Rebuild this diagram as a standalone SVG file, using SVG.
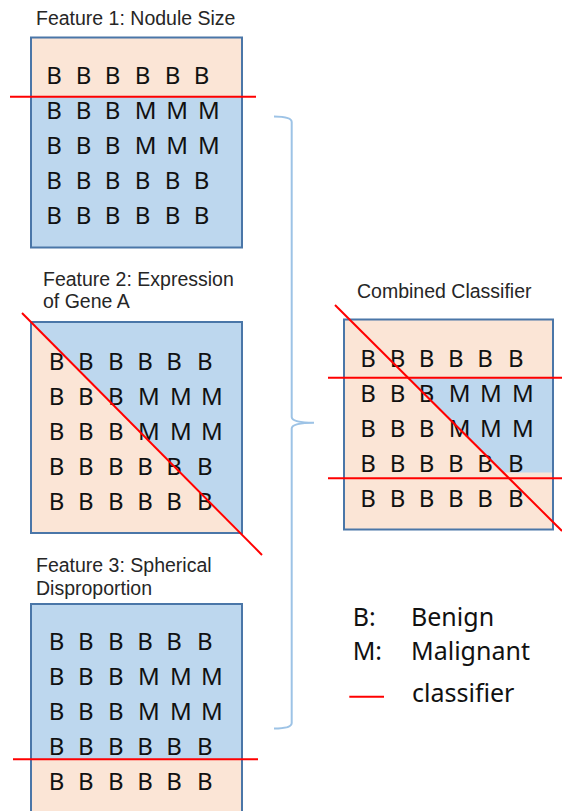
<svg xmlns="http://www.w3.org/2000/svg" width="562" height="811" viewBox="0 0 562 811">
<style>
.bg{fill:#ffffff}
.peach{fill:#FBE5D6}
.blue{fill:#BDD7EE}
.frame{fill:none;stroke:#4A76A8;stroke-width:2}
.cls{stroke:#FF0000;stroke-width:2;fill:none}
.title{font-family:"Liberation Sans",Arial,sans-serif;font-size:19.5px;fill:#262626}
.grid{font-family:"Noto Sans",sans-serif;font-size:24px;fill:#111111}
.leg{font-family:"Noto Sans",sans-serif;font-size:25px;fill:#111111}
.brace{fill:none;stroke:#9DC3E6;stroke-width:2}
</style>
<rect class="bg" x="0" y="0" width="562" height="811"/>

<g id="feature1">
<text class="title" x="36" y="25">Feature 1: Nodule Size</text>
<rect class="peach" x="31" y="37" width="211" height="60"/>
<rect class="blue" x="31" y="97" width="211" height="151"/>
<rect class="frame" x="31" y="37.5" width="211" height="210"/>
<g class="grid">
<text x="46.3 75.7 104.7 134.7 164.7 193.7" y="84.3">BBBBBB</text>
<text x="46.3 75.7 104.7 134.7 166.3 198" y="119.3">BBBMMM</text>
<text x="46.3 75.7 104.7 134.7 166.3 198" y="154.3">BBBMMM</text>
<text x="46.3 75.7 104.7 134.7 164.7 193.7" y="189.3">BBBBBB</text>
<text x="46.3 75.7 104.7 134.7 164.7 193.7" y="224.3">BBBBBB</text>
</g>
<line class="cls" x1="10" y1="96.7" x2="256" y2="96.7"/>
</g>

<g id="feature2">
<text class="title" x="43" y="285.5">Feature 2: Expression</text>
<text class="title" x="43" y="308.3">of Gene A</text>
<rect class="peach" x="31" y="322" width="211" height="211"/>
<polygon class="blue" points="31,322 242,322 242,533"/>
<rect class="frame" x="31" y="322" width="211" height="211"/>
<g class="grid">
<text x="48.7 78 108 137.3 166.3 197" y="370">BBBBBB</text>
<text x="48.7 78 108 138 170 201" y="405">BBBMMM</text>
<text x="48.7 78 108 138 170 201" y="440">BBBMMM</text>
<text x="48.7 78 108 137.3 166.3 197" y="475">BBBBBB</text>
<text x="48.7 78 108 137.3 166.3 197" y="510">BBBBBB</text>
</g>
<line class="cls" x1="22" y1="313" x2="262" y2="555"/>
</g>

<g id="feature3">
<text class="title" x="36" y="571.7">Feature 3: Spherical</text>
<text class="title" x="36" y="595">Disproportion</text>
<rect class="blue" x="31" y="604" width="211" height="155.3"/>
<rect class="peach" x="31" y="759.3" width="211" height="60"/>
<rect class="frame" x="31" y="604" width="211" height="220"/>
<g class="grid">
<text x="48.7 78 108 137.3 166.3 197" y="649.5">BBBBBB</text>
<text x="48.7 78 108 138 170 201" y="684.5">BBBMMM</text>
<text x="48.7 78 108 138 170 201" y="719.5">BBBMMM</text>
<text x="48.7 78 108 137.3 166.3 197" y="754.5">BBBBBB</text>
<text x="48.7 78 108 137.3 166.3 197" y="790">BBBBBB</text>
</g>
<line class="cls" x1="13" y1="759.3" x2="258" y2="759.3"/>
</g>

<g id="combined">
<text class="title" x="357" y="298">Combined Classifier</text>
<rect class="peach" x="344" y="319.5" width="209" height="210"/>
<polygon class="blue" points="408.3,378 553,378 553,472.5 503.2,472.5"/>
<rect class="frame" x="344" y="319.5" width="209" height="210"/>
<g class="grid">
<text x="360.3 389.7 418.7 448 477.3 508" y="366.7">BBBBBB</text>
<text x="360.3 389.7 418.7 448.7 480 512" y="401.7">BBBMMM</text>
<text x="360.3 389.7 418.7 448.7 480 512" y="436.7">BBBMMM</text>
<text x="360.3 389.7 418.7 448 477.3 508" y="472">BBBBBB</text>
<text x="360.3 389.7 418.7 448 477.3 508" y="506.7">BBBBBB</text>
</g>
<line class="cls" x1="328" y1="377.7" x2="562" y2="377.7"/>
<line class="cls" x1="328" y1="478.3" x2="562" y2="478.3"/>
<line class="cls" x1="335" y1="305" x2="562" y2="531"/>
</g>

<g id="connectors">
<path class="brace" d="M274,116.5 Q291.7,116.5 291.7,122 V417 Q291.7,422.7 314,422.7 Q291.7,422.7 291.7,428.5 V723 Q291.7,728.5 274,728.5"/>
</g>

<g id="legend">
<text class="leg" x="352.7" y="626">B:</text>
<text class="leg" x="411" y="626">Benign</text>
<text class="leg" x="352.7" y="660">M:</text>
<text class="leg" x="411" y="660">Malignant</text>
<line class="cls" x1="349.3" y1="696.7" x2="384" y2="696.7"/>
<text class="leg" x="412" y="701.7">classifier</text>
</g>
</svg>
